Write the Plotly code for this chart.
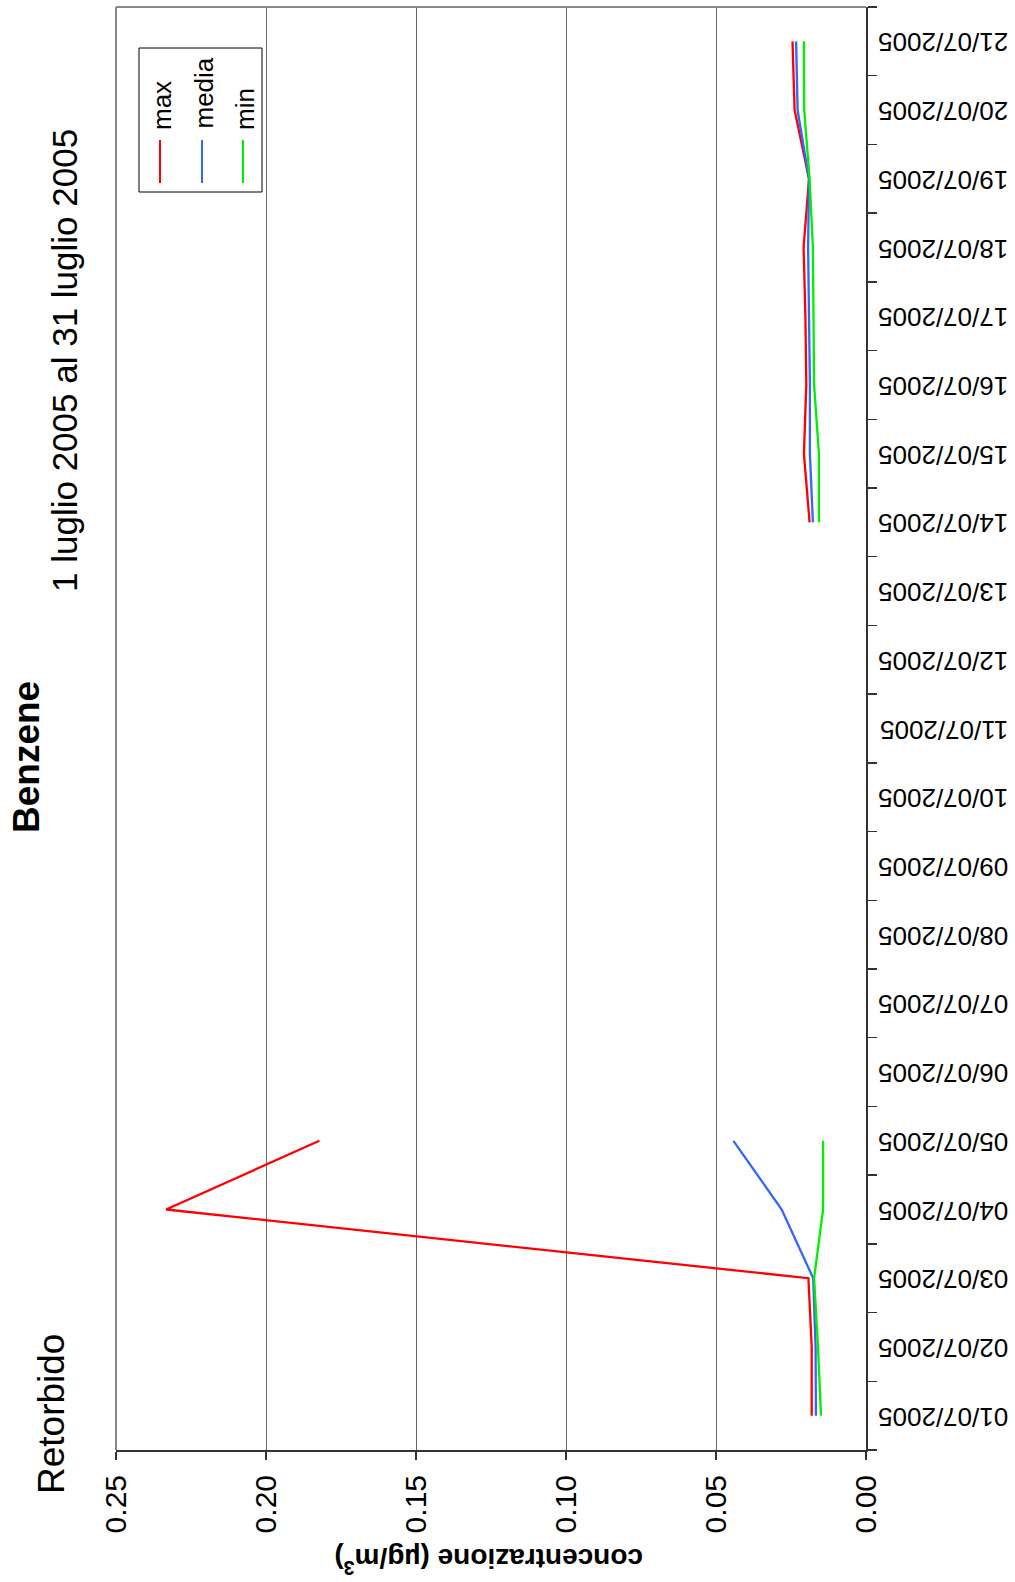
import plotly.graph_objects as go

# ---- data ----
days = list(range(1, 22))
date_labels = [f"{d:02d}/07/2005" for d in days]
series_names = ["max", "media", "min"]
series_colors = ["#ff0000", "#3366ff", "#00ee00"]
max_vals = [0.0181, 0.0181, 0.0192, 0.2333, 0.1822,
            None, None, None, None, None, None, None, None,
            0.0188, 0.0207, 0.0199, 0.0202, 0.0208, 0.0190, 0.0238, 0.0245]
media_vals = [0.0167, 0.0168, 0.0176, 0.0281, 0.0442,
              None, None, None, None, None, None, None, None,
              0.0177, 0.0187, 0.0187, 0.0190, 0.0193, 0.0190, 0.0228, 0.0233]
min_vals = [0.0150, 0.0160, 0.0173, 0.0143, 0.0143,
            None, None, None, None, None, None, None, None,
            0.0157, 0.0157, 0.0173, 0.0176, 0.0177, 0.0188, 0.0206, 0.0207]
conc_ticks = [0.00, 0.05, 0.10, 0.15, 0.20, 0.25]

FONT = "Liberation Sans, Arial, Helvetica, sans-serif"
W_FIG, H_FIG = 1015, 1582
L, R, T, B = 116, 866, 7, 1450
PW, PH = R - L, B - T


def px(x):
    return (x - L) / PW


def py(y):
    return (B - y) / PH


fig = go.Figure()
for name, vals, col in zip(series_names, [max_vals, media_vals, min_vals], series_colors):
    fig.add_trace(go.Scatter(x=vals, y=days, mode="lines", name=name,
                             line=dict(color=col, width=2.3), connectgaps=False,
                             showlegend=False, hoverinfo="skip"))

# invisible trace to carry the label axis
fig.add_trace(go.Scatter(x=[None], y=[None], yaxis="y2", showlegend=False,
                         hoverinfo="skip"))

fig.update_layout(
    width=W_FIG, height=H_FIG,
    margin=dict(l=L, r=W_FIG - R, t=T, b=H_FIG - B, pad=0),
    paper_bgcolor="white", plot_bgcolor="white",
    font=dict(family=FONT, color="black"),
    hovermode=False,
    xaxis=dict(range=[0.25, 0], tickvals=conc_ticks,
               ticktext=[f"{v:.2f}" for v in conc_ticks],
               tickangle=-90, tickfont=dict(size=30), ticklabelstandoff=3,
               ticks="outside", ticklen=8, tickcolor="#333", tickwidth=1.5,
               showgrid=True, gridcolor="#666666", gridwidth=1,
               zeroline=False, showline=True, linecolor="#333", linewidth=2),
    yaxis=dict(range=[0.5, 21.5], tickvals=[d + 0.5 for d in [0] + days],
               showticklabels=False, side="right",
               ticks="outside", ticklen=9, tickcolor="#333", tickwidth=1.5,
               showgrid=False, zeroline=False, showline=True,
               linecolor="#333", linewidth=2),
    yaxis2=dict(range=[0.5, 21.5], overlaying="y", side="right",
                tickvals=days, ticktext=date_labels, tickangle=180,
                tickfont=dict(size=26), ticks="outside", ticklen=9,
                ticklabelstandoff=127, ticklabelshift=9,
                tickcolor="rgba(0,0,0,0)", showgrid=False, zeroline=False,
                showline=False),
)

shapes = [
    # left & top grey borders
    dict(type="line", xref="paper", yref="paper", x0=0, x1=0, y0=0, y1=1,
         line=dict(color="#888888", width=2)),
    dict(type="line", xref="paper", yref="paper", x0=0, x1=1, y0=1, y1=1,
         line=dict(color="#888888", width=2)),
    # legend box
    dict(type="rect", xref="paper", yref="paper", x0=px(139), x1=px(262),
         y0=py(192), y1=py(48), line=dict(color="black", width=1),
         fillcolor="white"),
]
leg_x = [160, 202, 243]
leg_text_y = [106, 93.5, 109]
annotations = []
for name, col, lx, ty in zip(series_names, series_colors, leg_x, leg_text_y):
    shapes.append(dict(type="line", xref="paper", yref="paper",
                       x0=px(lx), x1=px(lx), y0=py(183), y1=py(140),
                       line=dict(color=col, width=2)))
    annotations.append(dict(text=name, xref="paper", yref="paper",
                            x=px(lx + 2), y=py(ty), showarrow=False,
                            textangle=-90, font=dict(size=26),
                            xanchor="center", yanchor="middle"))

annotations += [
    dict(text="<b>Benzene</b>", xref="paper", yref="paper", x=px(27), y=py(757),
         showarrow=False, textangle=-90, font=dict(size=37),
         xanchor="center", yanchor="middle"),
    dict(text="1 luglio 2005 al 31 luglio 2005", xref="paper", yref="paper",
         x=px(64), y=py(361), showarrow=False, textangle=-90,
         font=dict(size=35), xanchor="center", yanchor="middle"),
    dict(text="Retorbido", xref="paper", yref="paper", x=px(51), y=py(1414),
         showarrow=False, textangle=-90, font=dict(size=37),
         xanchor="center", yanchor="middle"),
    dict(text="<b>concentrazione (µg/m<sup>3</sup>)</b>", xref="paper",
         yref="paper", x=px(489), y=py(1561), showarrow=False, textangle=180,
         font=dict(size=28), xanchor="center", yanchor="middle"),
]
fig.update_layout(shapes=shapes, annotations=annotations)
fig.write_html("out.html", post_script="document.body.style.margin='0';",
               config={"displayModeBar": False, "staticPlot": True})
